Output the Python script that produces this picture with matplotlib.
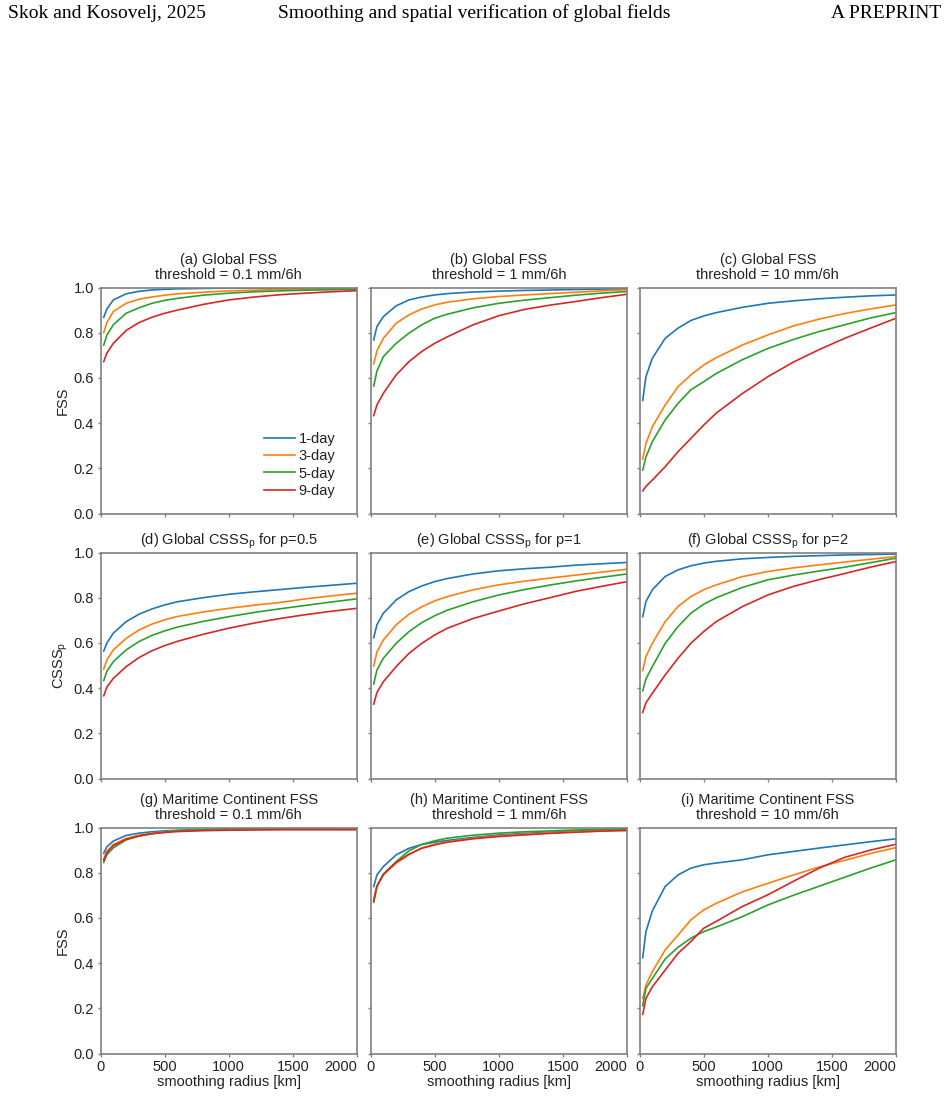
"""
FSS / CSSS_p vs smoothing radius, 3x3 panel figure
"""
import numpy as np
import matplotlib
matplotlib.use("Agg")
import matplotlib.pyplot as plt

plt.rcParams['font.family'] = ['Liberation Sans', 'DejaVu Sans']
plt.rcParams['mathtext.fontset'] = 'custom'
plt.rcParams['mathtext.rm'] = 'Liberation Sans'
plt.rcParams['mathtext.it'] = 'Liberation Sans:italic'

# smoothing radius [km]
radius = [25, 50, 100, 200, 300, 400, 500, 600, 800, 1000, 1200, 1400, 1600, 1800, 2000]
leads = ['1-day', '3-day', '5-day', '9-day']
colors = ['#1f77b4', '#ff7f0e', '#2ca02c', '#d62728']

# (a) global FSS, 0.1 mm/6h
fss_a = [
    [0.868, 0.905, 0.945, 0.972, 0.983, 0.989, 0.992, 0.994, 0.996, 0.997, 0.998, 0.998, 0.998, 0.999, 0.999],
    [0.800, 0.845, 0.894, 0.930, 0.948, 0.958, 0.966, 0.972, 0.979, 0.985, 0.988, 0.991, 0.993, 0.994, 0.995],
    [0.745, 0.790, 0.835, 0.886, 0.910, 0.930, 0.943, 0.952, 0.966, 0.975, 0.981, 0.985, 0.988, 0.990, 0.992],
    [0.672, 0.710, 0.753, 0.810, 0.845, 0.868, 0.886, 0.900, 0.925, 0.945, 0.958, 0.968, 0.975, 0.981, 0.986],
]
# (b) global FSS, 1 mm/6h
fss_b = [
    [0.768, 0.827, 0.871, 0.919, 0.945, 0.958, 0.967, 0.973, 0.980, 0.984, 0.987, 0.989, 0.991, 0.993, 0.994],
    [0.662, 0.720, 0.775, 0.842, 0.879, 0.905, 0.923, 0.935, 0.950, 0.960, 0.967, 0.973, 0.979, 0.985, 0.990],
    [0.564, 0.630, 0.694, 0.753, 0.798, 0.835, 0.864, 0.882, 0.910, 0.930, 0.944, 0.955, 0.966, 0.975, 0.982],
    [0.433, 0.480, 0.532, 0.613, 0.672, 0.717, 0.753, 0.782, 0.835, 0.875, 0.903, 0.922, 0.938, 0.955, 0.970],
]
# (c) global FSS, 10 mm/6h
fss_c = [
    [0.500, 0.605, 0.687, 0.775, 0.820, 0.854, 0.874, 0.889, 0.912, 0.930, 0.941, 0.950, 0.957, 0.963, 0.967],
    [0.241, 0.310, 0.384, 0.480, 0.561, 0.613, 0.657, 0.690, 0.745, 0.790, 0.830, 0.860, 0.885, 0.905, 0.923],
    [0.192, 0.250, 0.318, 0.414, 0.487, 0.547, 0.583, 0.620, 0.680, 0.730, 0.770, 0.805, 0.835, 0.865, 0.889],
    [0.100, 0.120, 0.148, 0.207, 0.273, 0.332, 0.391, 0.445, 0.530, 0.605, 0.670, 0.725, 0.775, 0.820, 0.864],
]
# (d) global CSSS_p, p=0.5
csss_d = [
    [0.564, 0.600, 0.643, 0.694, 0.727, 0.750, 0.768, 0.782, 0.800, 0.815, 0.826, 0.836, 0.846, 0.855, 0.864],
    [0.484, 0.525, 0.569, 0.620, 0.657, 0.683, 0.702, 0.717, 0.737, 0.753, 0.767, 0.779, 0.795, 0.808, 0.820],
    [0.433, 0.475, 0.517, 0.569, 0.606, 0.633, 0.653, 0.670, 0.695, 0.716, 0.735, 0.751, 0.766, 0.781, 0.795],
    [0.366, 0.405, 0.443, 0.495, 0.535, 0.565, 0.588, 0.607, 0.638, 0.665, 0.688, 0.708, 0.725, 0.740, 0.753],
]
# (e) global CSSS_p, p=1
csss_e = [
    [0.623, 0.680, 0.731, 0.790, 0.827, 0.852, 0.871, 0.885, 0.905, 0.919, 0.928, 0.935, 0.944, 0.950, 0.956],
    [0.498, 0.560, 0.613, 0.680, 0.727, 0.760, 0.786, 0.805, 0.835, 0.857, 0.873, 0.887, 0.900, 0.913, 0.926],
    [0.418, 0.480, 0.532, 0.598, 0.650, 0.690, 0.720, 0.745, 0.782, 0.812, 0.836, 0.856, 0.874, 0.890, 0.905],
    [0.329, 0.380, 0.428, 0.495, 0.554, 0.598, 0.635, 0.665, 0.708, 0.741, 0.773, 0.800, 0.828, 0.850, 0.871],
]
# (f) global CSSS_p, p=2
csss_f = [
    [0.716, 0.783, 0.835, 0.894, 0.923, 0.941, 0.953, 0.961, 0.972, 0.978, 0.983, 0.986, 0.989, 0.991, 0.993],
    [0.477, 0.540, 0.598, 0.694, 0.761, 0.805, 0.835, 0.857, 0.893, 0.916, 0.932, 0.945, 0.958, 0.970, 0.982],
    [0.388, 0.440, 0.495, 0.598, 0.672, 0.731, 0.771, 0.800, 0.845, 0.879, 0.900, 0.918, 0.935, 0.955, 0.975],
    [0.292, 0.335, 0.377, 0.458, 0.532, 0.598, 0.650, 0.695, 0.760, 0.812, 0.850, 0.880, 0.907, 0.935, 0.960],
]
# (g) Maritime Continent FSS, 0.1 mm/6h
fss_g = [
    [0.886, 0.915, 0.940, 0.965, 0.975, 0.981, 0.985, 0.988, 0.991, 0.993, 0.994, 0.995, 0.995, 0.996, 0.996],
    [0.860, 0.895, 0.925, 0.952, 0.966, 0.975, 0.981, 0.985, 0.989, 0.991, 0.993, 0.994, 0.994, 0.995, 0.995],
    [0.845, 0.880, 0.910, 0.945, 0.962, 0.973, 0.980, 0.985, 0.990, 0.993, 0.995, 0.996, 0.997, 0.997, 0.998],
    [0.855, 0.890, 0.920, 0.948, 0.963, 0.972, 0.978, 0.982, 0.986, 0.988, 0.989, 0.990, 0.990, 0.990, 0.990],
]
# (h) Maritime Continent FSS, 1 mm/6h
fss_h = [
    [0.739, 0.790, 0.827, 0.879, 0.908, 0.925, 0.935, 0.943, 0.956, 0.967, 0.974, 0.979, 0.984, 0.987, 0.990],
    [0.680, 0.740, 0.790, 0.842, 0.880, 0.910, 0.926, 0.937, 0.952, 0.963, 0.970, 0.976, 0.981, 0.985, 0.987],
    [0.669, 0.740, 0.793, 0.849, 0.897, 0.925, 0.941, 0.953, 0.966, 0.975, 0.981, 0.985, 0.989, 0.992, 0.994],
    [0.675, 0.740, 0.793, 0.846, 0.882, 0.908, 0.923, 0.935, 0.950, 0.960, 0.967, 0.974, 0.979, 0.984, 0.987],
]
# (i) Maritime Continent FSS, 10 mm/6h
fss_i = [
    [0.424, 0.539, 0.631, 0.739, 0.790, 0.820, 0.835, 0.843, 0.857, 0.879, 0.894, 0.909, 0.923, 0.937, 0.950],
    [0.244, 0.303, 0.362, 0.458, 0.524, 0.591, 0.635, 0.665, 0.715, 0.753, 0.790, 0.825, 0.855, 0.885, 0.911],
    [0.211, 0.288, 0.332, 0.418, 0.470, 0.510, 0.539, 0.560, 0.605, 0.657, 0.700, 0.740, 0.780, 0.820, 0.857],
    [0.173, 0.244, 0.295, 0.369, 0.443, 0.495, 0.554, 0.585, 0.650, 0.702, 0.762, 0.820, 0.868, 0.900, 0.926],
]

panels = [fss_a, fss_b, fss_c, csss_d, csss_e, csss_f, fss_g, fss_h, fss_i]
titles = [
    "(a) Global FSS\nthreshold = 0.1 mm/6h",
    "(b) Global FSS\nthreshold = 1 mm/6h",
    "(c) Global FSS\nthreshold = 10 mm/6h",
    r"(d) Global CSSS$_\mathrm{p}$ for p=0.5",
    r"(e) Global CSSS$_\mathrm{p}$ for p=1",
    r"(f) Global CSSS$_\mathrm{p}$ for p=2",
    "(g) Maritime Continent FSS\nthreshold = 0.1 mm/6h",
    "(h) Maritime Continent FSS\nthreshold = 1 mm/6h",
    "(i) Maritime Continent FSS\nthreshold = 10 mm/6h",
]
ylabels = ["FSS", r"CSSS$_\mathrm{p}$", "FSS"]

W, H = 948, 1098
fig = plt.figure(figsize=(W / 100, H / 100), dpi=100)

# page header
hy = 1 - 13 / H
hdr = dict(family='Liberation Serif', fontsize=14, va='center')
fig.text(8 / W, hy, "Skok and Kosovelj, 2025", **hdr)
fig.text(474 / W, hy, "Smoothing and spatial verification of global fields", ha='center', **hdr)
fig.text(941 / W, hy, "A PREPRINT", ha='right', **hdr)

col_left = [100.5, 370.5, 639.5]
row_top = [287.5, 552.5, 827.5]
aw, ah = 256.5, 226

spine_col = '#808080'
txt_col = '#222222'
fs = 10.5

for k, data in enumerate(panels):
    r, c = divmod(k, 3)
    ax = fig.add_axes([col_left[c] / W, 1 - (row_top[r] + ah) / H, aw / W, ah / H])
    for vals, col, lab in zip(data, colors, leads):
        ax.plot(radius, vals, color=col, lw=1.2, label=lab)
    ax.set_xlim(0, 2000)
    ax.set_ylim(0, 1)
    ax.set_xticks([0, 500, 1000, 1500, 2000])
    ax.set_yticks(np.arange(0, 1.01, 0.2))
    ax.yaxis.set_major_formatter(plt.FormatStrFormatter('%.1f'))
    for s in ax.spines.values():
        s.set_color(spine_col)
        s.set_linewidth(1.2)
    ax.tick_params(colors=spine_col, labelcolor=txt_col, labelsize=fs,
                   length=2.5, width=1.0, pad=2)
    ax.set_title(titles[k], fontsize=fs, color=txt_col, pad=6, linespacing=1.1)
    if c == 0:
        ax.set_ylabel(ylabels[r], fontsize=fs, color=txt_col, labelpad=3)
    else:
        ax.tick_params(labelleft=False)
    if r == 2:
        ax.set_xlabel("smoothing radius [km]", fontsize=fs, color=txt_col, labelpad=1)
        ax.get_xticklabels()[-1].set_horizontalalignment('right')
    else:
        ax.tick_params(labelbottom=False)
    if k == 0:
        leg = ax.legend(loc='lower right', bbox_to_anchor=(0.961, 0.018), frameon=False,
                        fontsize=fs, handlelength=2.1, handletextpad=0.25,
                        labelspacing=0.22, borderaxespad=0.4)
        for t in leg.get_texts():
            t.set_color(txt_col)

fig.savefig("out.png", dpi=100)
